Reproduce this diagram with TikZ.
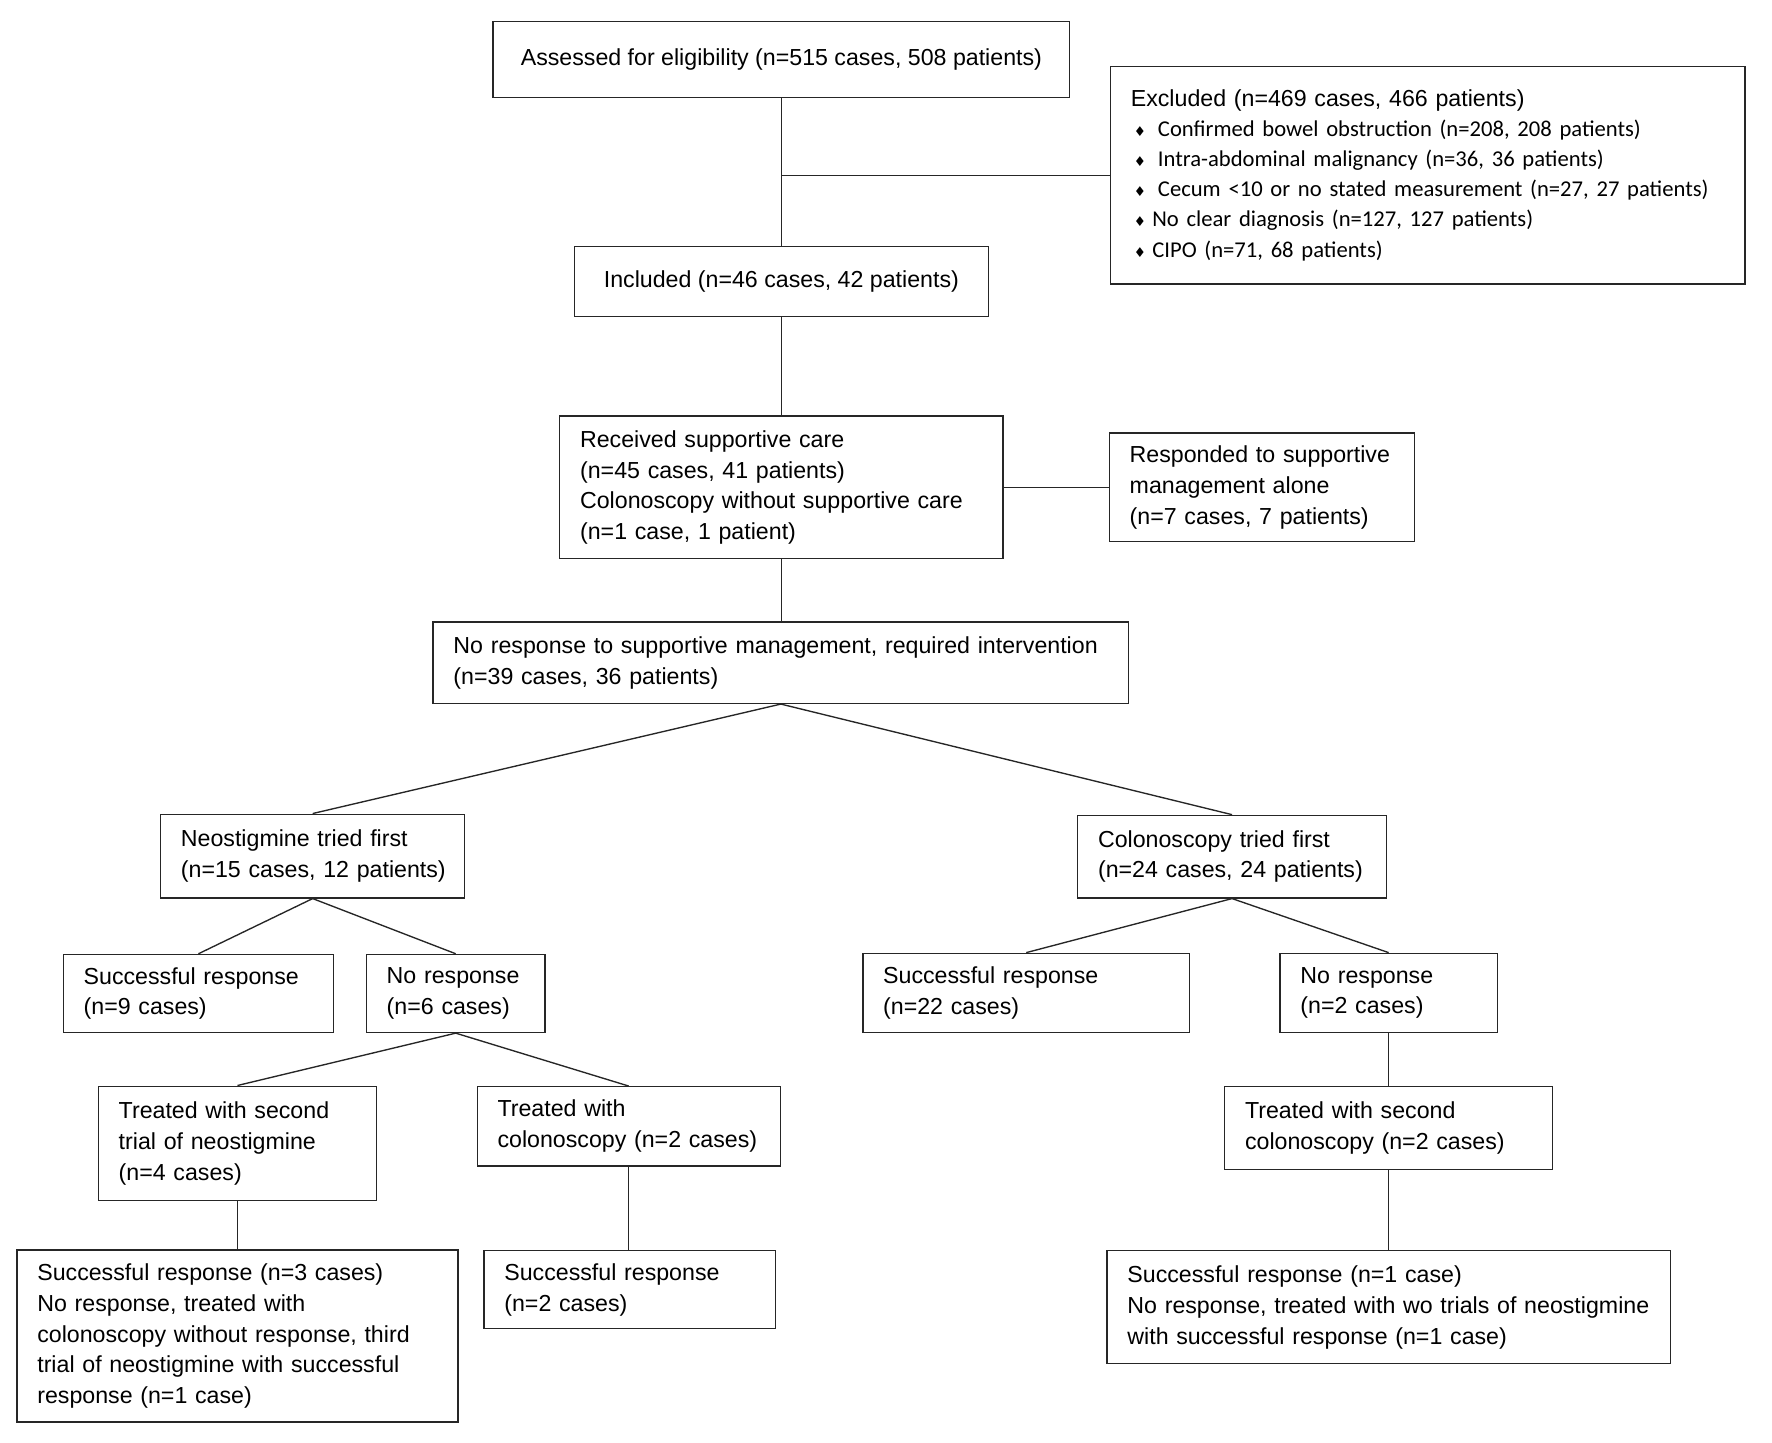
\documentclass[tikz,border=0pt]{standalone}
\usepackage{fontspec}
\setmainfont{Liberation Sans}
\newfontfamily\calib{Carlito}
\newfontfamily\dejav{DejaVu Sans}
\newcommand\bul{\hspace*{1pt}\makebox[6pt][c]{\dejav\fontsize{6}{6}\selectfont ♦}}
\newcommand\itm{\calib\fontsize{10}{13.3}\selectfont}
\newcommand\tline[1]{\mbox{#1}}
\begin{document}
\begin{tikzpicture}[x=0.5pt,y=-0.5pt,
  box/.style={draw=black!85, line width=0.6pt, inner ysep=0pt, inner xsep=9pt, font=\fontsize{10.25}{13.6}\selectfont},
  lbox/.style={box, align=left},
  cbox/.style={box, align=center},
  conn/.style={draw=black!85, line width=0.6pt}]
\useasboundingbox (0,0) rectangle (1567,1276);

\node[cbox, minimum width=255pt, minimum height=33.5pt] (assess) at (691,52.5) {Assessed for eligibility (n=515 cases, 508 patients)};
\node[lbox, text width=262.5pt, minimum height=96pt, font=\fontsize{10.25}{13.3}\selectfont] (excl) at (1262.5,155) {\tline{Excluded (n=469 cases, 466 patients)}\\
\tline{\itm\bul\hspace{5pt}Confirmed bowel obstruction (n=208, 208 patients)}\\
\tline{\itm\bul\hspace{5pt}Intra-abdominal malignancy (n=36, 36 patients)}\\
\tline{\itm\bul\hspace{5pt}Cecum <10 or no stated measurement (n=27, 27 patients)}\\
\tline{\itm\bul\hspace{2.5pt}No clear diagnosis (n=127, 127 patients)}\\
\tline{\itm\bul\hspace{2.5pt}CIPO (n=71, 68 patients)}};
\node[cbox, minimum width=183pt, minimum height=31pt] (incl) at (691,249) {Included (n=46 cases, 42 patients)};
\node[lbox, text width=178pt, minimum height=63pt] (recv) at (691,431) {\tline{Received supportive care}\\\tline{(n=45 cases, 41 patients)}\\\tline{Colonoscopy without supportive care}\\\tline{(n=1 case, 1 patient)}};
\node[lbox, text width=117pt, minimum height=48pt] (resp) at (1116,431) {\tline{Responded to supportive}\\\tline{management alone}\\\tline{(n=7 cases, 7 patients)}};
\node[lbox, text width=289.5pt, minimum height=36pt] (nore) at (690.5,586) {\tline{No response to supportive management, required intervention}\\\tline{(n=39 cases, 36 patients)}};
\node[lbox, text width=116.5pt, minimum height=37pt] (neo) at (276.5,757) {\tline{Neostigmine tried first}\\\tline{(n=15 cases, 12 patients)}};
\node[lbox, text width=118.5pt, minimum height=36.5pt] (col) at (1089.5,757.5) {\tline{Colonoscopy tried first}\\\tline{(n=24 cases, 24 patients)}};
\node[lbox, text width=101.5pt, minimum height=34.5pt] (s9) at (175.5,878.5) {\tline{Successful response}\\\tline{(n=9 cases)}};
\node[lbox, text width=61pt, minimum height=34.5pt] (nr6) at (403,878.5) {\tline{No response}\\\tline{(n=6 cases)}};
\node[lbox, text width=105pt, minimum height=50.5pt] (t2n) at (210,1011) {\tline{Treated with second}\\\tline{trial of neostigmine}\\\tline{(n=4 cases)}};
\node[lbox, text width=116pt, minimum height=35pt] (tc) at (556,996) {\tline{Treated with}\\\tline{colonoscopy (n=2 cases)}};
\node[lbox, text width=177pt, minimum height=76pt] (s3) at (210,1181.5) {\tline{Successful response (n=3 cases)}\\\tline{No response, treated with}\\\tline{colonoscopy without response, third}\\\tline{trial of neostigmine with successful}\\\tline{response (n=1 case)}};
\node[lbox, text width=111pt, minimum height=34.5pt] (s2) at (557,1140.5) {\tline{Successful response}\\\tline{(n=2 cases)}};
\node[lbox, text width=126.5pt, minimum height=35pt] (s22) at (907.5,878) {\tline{Successful response}\\\tline{(n=22 cases)}};
\node[lbox, text width=78pt, minimum height=35pt] (nr2) at (1228,878) {\tline{No response}\\\tline{(n=2 cases)}};
\node[lbox, text width=127pt, minimum height=36.5pt] (t2c) at (1228,997.5) {\tline{Treated with second}\\\tline{colonoscopy (n=2 cases)}};
\node[lbox, text width=231pt, minimum height=50pt] (s1) at (1228,1156) {\tline{Successful response (n=1 case)}\\\tline{No response, treated with wo trials of neostigmine}\\\tline{with successful response (n=1 case)}};

\draw[conn] (assess.south) -- (incl.north);
\draw[conn] (assess.south |- excl.west) -- (excl.west);
\draw[conn] (incl.south) -- (recv.north);
\draw[conn] (recv.east) -- (resp.west);
\draw[conn] (recv.south) -- (nore.north -| recv.south);
\draw[conn] (nore.south) -- (neo.north);
\draw[conn] (nore.south) -- (col.north);
\draw[conn] (neo.south) -- (s9.north);
\draw[conn] (neo.south) -- (nr6.north);
\draw[conn] (nr6.south) -- (t2n.north);
\draw[conn] (nr6.south) -- (tc.north);
\draw[conn] (t2n.south) -- (s3.north);
\draw[conn] (tc.south) -- (s2.north -| tc.south);
\draw[conn] (col.south) -- (s22.north);
\draw[conn] (col.south) -- (nr2.north);
\draw[conn] (nr2.south) -- (t2c.north);
\draw[conn] (t2c.south) -- (s1.north);
\end{tikzpicture}
\end{document}
